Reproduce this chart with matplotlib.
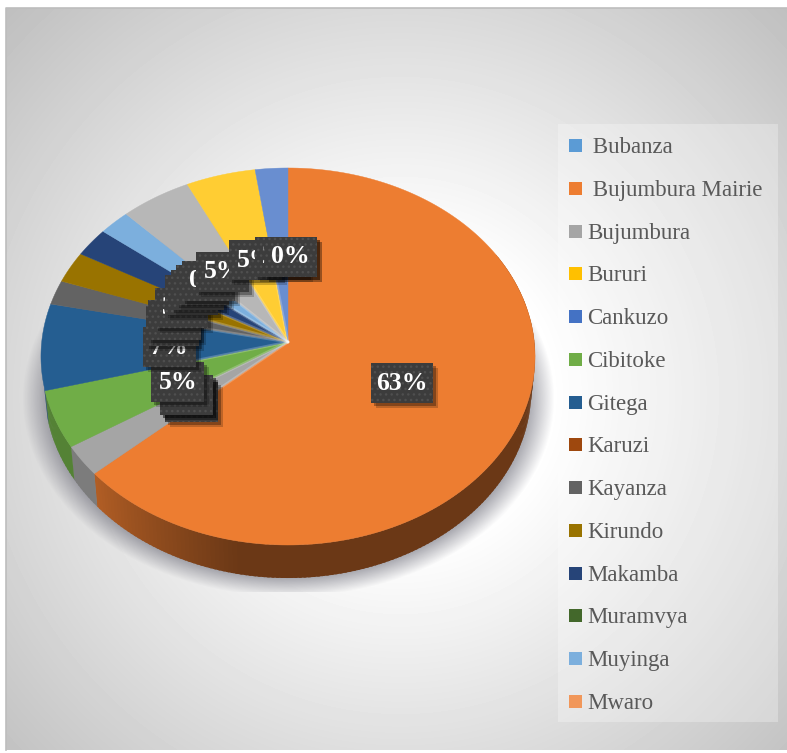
import numpy as np
import matplotlib
matplotlib.use('Agg')
import matplotlib.pyplot as plt
from matplotlib.patches import Rectangle

# legend only lists the first 14 provinces, the pie has 18 slices
legend_names = [' Bubanza', ' Bujumbura Mairie', 'Bujumbura', 'Bururi', 'Cankuzo',
                'Cibitoke', 'Gitega', 'Karuzi', 'Kayanza', 'Kirundo', 'Makamba',
                'Muramvya', 'Muyinga', 'Mwaro']
shares = [0, 63.4, 2.6, 0, 0, 4.9, 7.4, 0, 2.1, 2.7, 2.5, 0, 2.2, 0, 5.0, 4.9, 2.3, 0]
colors = ['#5B9BD5', '#ED7D31', '#A5A5A5', '#FFC000', '#4472C4', '#70AD47', '#255E91',
          '#9E480E', '#636363', '#997300', '#264478', '#43682B', '#7CAFDD', '#F1975A',
          '#B7B7B7', '#FFCD33', '#698ED0', '#84BAE3']

plt.rcParams['hatch.linewidth'] = 1.0
serif = 'Liberation Serif'

# pie apex and perspective terms
cx, cy = 288, 342
A, B, k = 246.3, 187.4, 0.0769
depth = 33


def project(t, r=1.0):
    u, v = np.sin(t), np.cos(t)
    w = 1 + k * r * v
    return cx + A * r * u / w, cy - B * r * v / w


def wall_shade(deg):
    return np.interp(deg, [0, 190, 228, 290], [0.45, 0.45, 0.75, 0.75])


fig = plt.figure(figsize=(7.87, 7.53), dpi=100)
ax = fig.add_axes([0, 0, 1, 1])
ax.set_xlim(0, 787)
ax.set_ylim(753, 0)
ax.axis('off')

# backdrop
X, Y = np.meshgrid(np.arange(6, 787), np.arange(8, 750))
dist = np.hypot(X - 400, Y - 395)
bg = np.clip(255 - 63 * (dist - 150) / 395, 0, 255) / 255
ax.imshow(bg, cmap='gray', vmin=0, vmax=1, extent=(6, 787, 750, 8), aspect='auto', zorder=0)
ax.plot([6, 6, 787], [750, 8, 8], color='#BDBDBD', lw=1.2, zorder=1)

# soft shadow under the pie, cut off flat at the bottom
d = 1 - np.sqrt(((X - 288) / 266) ** 2 + ((Y - 398) / 198) ** 2)
shadow = np.zeros(X.shape + (4,))
shadow[..., :3] = (0.42, 0.42, 0.47)
shadow[..., 3] = np.clip(d / 0.11, 0, 1) * 0.66 * (Y < 592)
ax.imshow(shadow, extent=(6, 787, 750, 8), aspect='auto', zorder=2)

# side wall, then top of the pie
fractions = np.array(shares) / sum(shares)
edges = np.concatenate([[0], np.cumsum(fractions)]) * 2 * np.pi
step = np.radians(1.0)
for i, c in enumerate(colors):
    if shares[i] == 0:
        continue
    for t0 in np.arange(edges[i], edges[i + 1], step):
        if np.degrees(t0) < 60 or np.degrees(t0) > 256:
            continue
        # strips overlap a little so no seams show between them
        t1 = min(t0 + 1.6 * step, edges[i + 1])
        ts = np.linspace(t0, t1, 4)
        xs, ys = project(ts)
        bx = cx + (xs - cx) * 0.985
        rgb = np.array(matplotlib.colors.to_rgb(c)) * wall_shade(np.degrees(t0))
        ax.fill(np.r_[xs, bx[::-1]], np.r_[ys, ys[::-1] + depth], color=rgb, lw=0, zorder=3)

for i, c in enumerate(colors):
    if shares[i] == 0:
        continue
    ts = np.linspace(edges[i], edges[i + 1], 200)
    xs, ys = project(ts)
    ax.fill(np.r_[cx, xs], np.r_[cy, ys], facecolor=c, edgecolor=c, lw=0.3, zorder=4)
    # faint light seams along the slice edges near the centre
    xe, ye = project(np.array([edges[i], edges[i]]), np.array([0.0, 0.55]))
    if i > 1:
        ax.plot(xe, ye, color='white', alpha=0.22, lw=2.0, zorder=5, solid_capstyle='round')

# stacked data labels, later slices sit on top
for i, v in enumerate(shares):
    mid = (edges[i] + edges[i + 1]) / 2
    lx, ly = project(mid, 0.49)
    lx += 2
    ly += 3
    txt = f'{v:.0f}%'
    w = 62 if v >= 10 else 53
    h = 40
    z = 6 + i * 0.1
    ax.add_patch(Rectangle((lx - w / 2 + 5, ly - h / 2 + 5), w, h, fc='black', alpha=0.2, lw=0, zorder=z))
    ax.add_patch(Rectangle((lx - w / 2 + 3, ly - h / 2 + 3), w, h, fc='black', alpha=0.3, lw=0, zorder=z))
    ax.add_patch(Rectangle((lx - w / 2, ly - h / 2), w, h, fc='#3C3C3C', ec='#4F4F4F', lw=0,
                           hatch='...', zorder=z))
    ax.text(lx, ly, txt, color='white', fontsize=18.5, fontweight='bold', family=serif,
            ha='center', va='center', zorder=z)

# legend panel
ax.add_patch(Rectangle((558, 124), 220, 598, fc='white', alpha=0.28, lw=0, zorder=2))
for i, name in enumerate(legend_names):
    row = 145.5 + i * 42.77
    ax.add_patch(Rectangle((569, row - 6.5), 13, 13, fc=colors[i], lw=0, zorder=3))
    ax.text(587, row + 2, name, color='#595959', fontsize=16.5, family=serif,
            ha='left', va='center', zorder=3)

fig.savefig('out.png', dpi=100)
